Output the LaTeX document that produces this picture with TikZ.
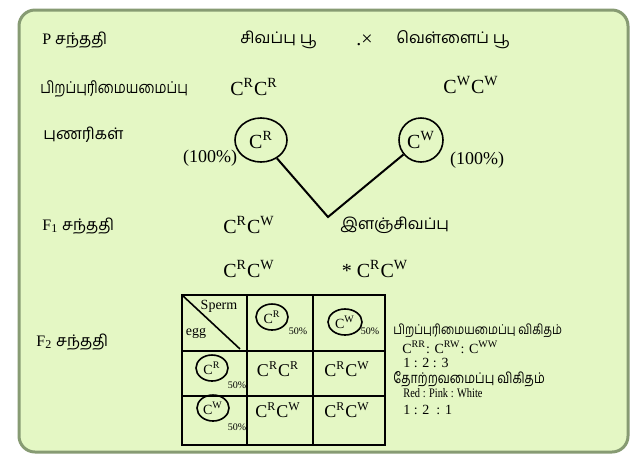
\documentclass[tikz,border=0pt]{standalone}
\usepackage{fontspec}
\setmainfont{Liberation Serif}
\newfontfamily\tafont[Script=Tamil]{Hind Madurai}
\newfontfamily\tanarrow[Script=Tamil, FakeStretch=0.82]{Hind Madurai}
\newfontfamily\narrowserif[FakeStretch=0.8]{Liberation Serif}
\usetikzlibrary{shapes.geometric}
\definecolor{panelfill}{RGB}{228,247,196}
\definecolor{paneledge}{RGB}{135,155,115}
\newcommand{\gene}[1]{C\textsuperscript{#1}}
\tikzset{tamil/.style = {font = \tafont\fontsize{8}{9}\selectfont, anchor = west, inner sep = 0pt},
	gen/.style = {font = \fontsize{10}{12}\selectfont, inner sep = 0pt},
	gamete/.style = {ellipse, draw, thick, inner sep = 0pt, font = \fontsize{10}{12}\selectfont},
	smallgamete/.style = {ellipse, draw, thick, inner sep = 0pt, minimum width = 16pt, minimum height = 13pt, font = \fontsize{7}{8}\selectfont},
	pct/.style = {font = \fontsize{5}{6}\selectfont, inner sep = 0pt},
	cell/.style = {font = \fontsize{9}{10}\selectfont, inner sep = 0pt},
	ratiotext/.style = {font = \fontsize{7}{8}\selectfont, anchor = west, inner sep = 0pt},
	tableline/.style = {line width = 1.1pt}}

\begin{document}
\begin{tikzpicture}[x = 0.5pt, y = -0.5pt]

 \useasboundingbox (0,0) rectangle (642,457);
 \fill[white] (0,0) rectangle (642,457);
 \draw[paneledge, line width = 1.5pt, fill = panelfill, rounded corners = 8pt] (19,10) rectangle (628,452);

 % parents
 \node (pgen) at (42,40) [tamil] {{\rmfamily P} சந்ததி};
 \node (red) at (240,40) [tamil] {சிவப்பு பூ};
 \node (cross) at (356,40) [gen, anchor = west] {.×};
 \node (white) at (396,40) [tamil] {வெள்ளைப் பூ};

 \node (geno) at (40,89) [tamil, font = \tanarrow\fontsize{8.2}{9}\selectfont] {பிறப்புரிமையமைப்பு};
 \node (crcr) at (254,87) [gen] {\gene{R}\gene{R}};
 \node (cwcw) at (471,85) [gen] {\gene{W}\gene{W}};

 % gametes
 \node (gam) at (43,135) [tamil] {புணரிகள்};
 \node (gr) at (261,140) [gamete, minimum width = 26pt, minimum height = 22pt] {\gene{R}};
 \node (gw) at (421,140) [gamete, minimum width = 22pt, minimum height = 22pt] {\gene{W}};
 \node (pl) at (210,158) [gen, font = \fontsize{9}{10}\selectfont] {(100\%)};
 \node (pr) at (477,160) [gen, font = \fontsize{9}{10}\selectfont] {(100\%)};
 \coordinate (apex) at (328,217);
 \draw[line width = 1pt] (gr) -- (apex) -- (gw);

 % F1
 \node (f1) at (42,226) [tamil] {{\rmfamily F\textsubscript{1}} சந்ததி};
 \node (f1g) at (249,225) [gen] {\gene{R}\gene{W}};
 \node (pink) at (340,225) [tamil] {இளஞ்சிவப்பு};
 \node (self1) at (249,269) [gen] {\gene{R}\gene{W}};
 \node (self2) at (375,269) [gen] {* \gene{R}\gene{W}};

 % F2
 \node (f2) at (36,342) [tamil] {{\rmfamily F\textsubscript{2}} சந்ததி};
 \coordinate (tl) at (182,295);
 \coordinate (br) at (385,445);
 \draw[tableline] (tl) rectangle (br);
 \foreach \x in {247,313} \draw[tableline] (\x,295) -- (\x,445);
 \foreach \y in {351,396} \draw[tableline] (182,\y) -- (385,\y);
 \draw[thick] (tl) -- (240,349);
 \node (sperm) at (219,306) [cell, font = \fontsize{7}{8}\selectfont] {Sperm};
 \node (egg) at (196,333) [cell, font = \fontsize{7}{8}\selectfont] {egg};

 \node (hr) at (272,317) [smallgamete] {\gene{R}};
 \node (hrp) at (298,331) [pct] {50\%};
 \node (hw) at (345,322) [smallgamete, minimum width = 17pt] {\gene{W}};
 \node (hwp) at (370,331) [pct] {50\%};
 \node (vr) at (212,368) [smallgamete] {\gene{R}};
 \node (vrp) at (237,385) [pct] {50\%};
 \node (vw) at (213,408) [smallgamete] {\gene{W}};
 \node (vwp) at (237,427) [pct] {50\%};

 \node (rr) at (278,369) [cell] {\gene{R}\gene{R}};
 \node (rw1) at (347,369) [cell] {\gene{R}\gene{W}};
 \node (rw2) at (278,410) [cell] {\gene{R}\gene{W}};
 \node (rw3) at (347,410) [cell] {\gene{R}\gene{W}};

 % ratios
 \node (genoratio) at (393,331) [tamil, font = \tanarrow\fontsize{6.8}{8}\selectfont] {பிறப்புரிமையமைப்பு விகிதம்};
 \node (genolist) at (402,347) [ratiotext] {\gene{RR}: \gene{RW}: \gene{WW}};
 \node (genonum) at (403,363) [ratiotext] {1 : 2 : 3};
 \node (phenoratio) at (393,379) [tamil, font = \tanarrow\fontsize{7.4}{8}\selectfont] {தோற்றவமைப்பு விகிதம்};
 \node (phenolist) at (403,393) [ratiotext, font = \narrowserif\fontsize{6.5}{7}\selectfont] {Red : Pink : White};
 \node (phenonum) at (403,410) [ratiotext] {1 : 2 \ : 1};

\end{tikzpicture}
\end{document}
